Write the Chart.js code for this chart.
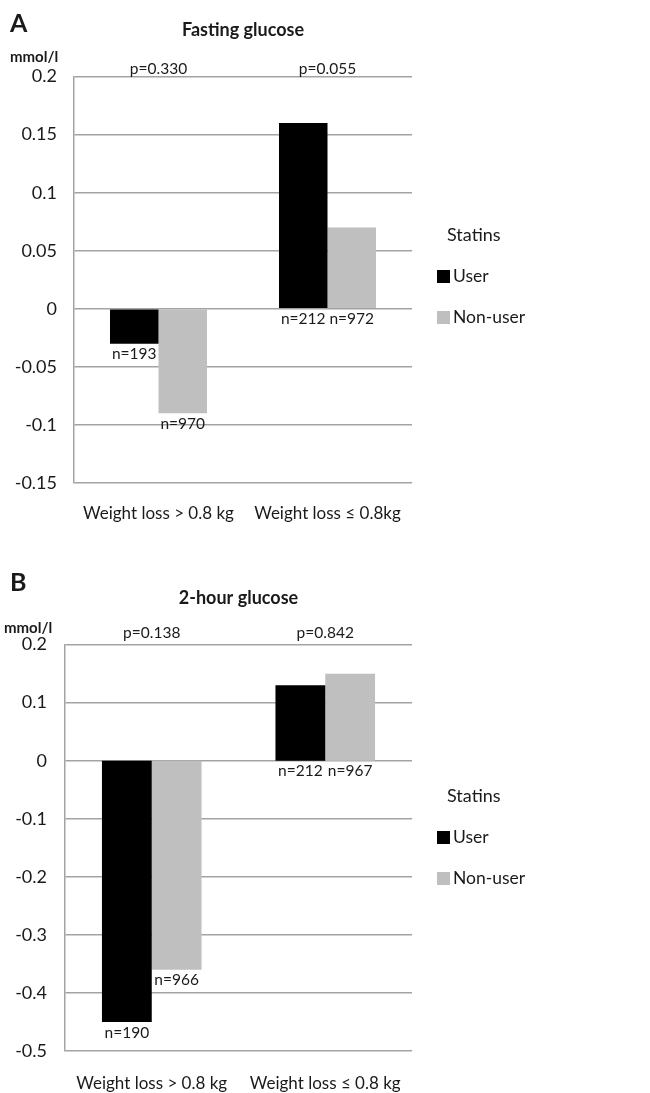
<!DOCTYPE html>
<html>
<head>
<meta charset="utf-8">
<script src="https://cdn.jsdelivr.net/npm/chart.js@4.4.0/dist/chart.umd.min.js"></script>
<style>
  body { margin: 0; background: #fff; }
  canvas { position: absolute; left: 0; }
</style>
</head>
<body>
<canvas id="chartA" width="650" height="545" style="top:0"></canvas>
<canvas id="chartB" width="650" height="548" style="top:545px"></canvas>
<script>
// ---- data ----
const groupsA = ["Weight loss > 0.8 kg", "Weight loss \u2264 0.8kg"];
const groupsB = ["Weight loss > 0.8 kg", "Weight loss \u2264 0.8 kg"];
const seriesNames = ["User", "Non-user"];

const fastingUser = [-0.03, 0.16];
const fastingNonUser = [-0.09, 0.07];
const fastingUserN = [193, 212];
const fastingNonUserN = [970, 972];
const fastingP = ["0.330", "0.055"];

const twoHourUser = [-0.45, 0.13];
const twoHourNonUser = [-0.36, 0.15];
const twoHourUserN = [190, 212];
const twoHourNonUserN = [966, 967];
const twoHourP = ["0.138", "0.842"];

const fontFamily = "Lato, 'Open Sans', sans-serif";
const textColor = "#1a1a1a";
const gridColor = "#a3a3a3";
const userColor = "#000000";
const nonUserColor = "#bfbfbf";

// draws panel letter, unit, p values, n labels and the legend
const annotate = {
  id: "annotate",
  afterDatasetsDraw(chart, args, opts) {
    const { ctx, chartArea, scales: { x } } = chart;
    ctx.save();
    ctx.fillStyle = textColor;
    ctx.textAlign = "left";
    ctx.textBaseline = "middle";
    ctx.font = `bold 25px ${fontFamily}`;
    ctx.fillText(opts.letter, opts.letterX, opts.letterY);
    ctx.font = `bold 15px ${fontFamily}`;
    ctx.fillText("mmol/l", opts.unitX, opts.unitY);

    ctx.font = `15.5px ${fontFamily}`;
    ctx.textAlign = "center";
    opts.pValues.forEach((p, i) => {
      ctx.fillText("p=" + p, x.getPixelForValue(i), chartArea.top - opts.pGap);
    });

    ctx.textBaseline = "top";
    chart.data.datasets.forEach((ds, di) => {
      chart.getDatasetMeta(di).data.forEach((bar, i) => {
        ctx.fillText("n=" + ds.n[i], bar.x, Math.max(bar.y, bar.base) + 3);
      });
    });

    // legend
    const lx = chartArea.right + 25;
    ctx.textAlign = "left";
    ctx.textBaseline = "middle";
    ctx.font = `18px ${fontFamily}`;
    ctx.fillText("Statins", lx + 10, opts.legendY);
    ctx.font = `17.5px ${fontFamily}`;
    chart.data.datasets.forEach((ds, di) => {
      const y = opts.legendY + 41 * (di + 1);
      ctx.fillStyle = ds.backgroundColor;
      ctx.fillRect(lx, y - 6, 13, 13);
      ctx.fillStyle = textColor;
      ctx.fillText(ds.label, lx + 16, y);
    });
    ctx.restore();
  },
};

function makeChart(id, cfg) {
  return new Chart(document.getElementById(id), {
    type: "bar",
    data: {
      labels: cfg.labels,
      datasets: [
        { label: seriesNames[0], data: cfg.user, n: cfg.userN, backgroundColor: userColor },
        { label: seriesNames[1], data: cfg.nonUser, n: cfg.nonUserN, backgroundColor: nonUserColor },
      ],
    },
    options: {
      responsive: false,
      animation: false,
      layout: { padding: { top: 0, right: 238, bottom: 0, left: 0 } },
      datasets: { bar: { barPercentage: 1, categoryPercentage: 0.574 } },
      plugins: {
        legend: { display: false },
        tooltip: { enabled: false },
        title: {
          display: true,
          text: cfg.title,
          fullSize: false,
          color: textColor,
          font: { family: fontFamily, size: 18, weight: "bold" },
          padding: { top: cfg.titleTop, bottom: cfg.titleBottom },
        },
        annotate: cfg.annotate,
      },
      scales: {
        x: {
          afterFit(scale) { scale.height = cfg.xHeight; },
          grid: { display: false, drawTicks: false },
          border: { display: false },
          ticks: { color: textColor, padding: cfg.xPad, maxRotation: 0,
                   font: { family: fontFamily, size: 17 } },
        },
        y: {
          min: cfg.min,
          max: cfg.max,
          afterFit(scale) { scale.width = cfg.axisWidth; },
          grid: { color: gridColor, lineWidth: 1.5, drawTicks: false },
          border: { display: true, color: gridColor, width: 1.5 },
          ticks: {
            stepSize: cfg.step,
            padding: cfg.yPad,
            color: textColor,
            font: { family: fontFamily, size: 18 },
            callback: (v) => String(Number(v.toFixed(2))),
          },
        },
      },
    },
    plugins: [annotate],
  });
}

makeChart("chartA", {
  labels: groupsA,
  title: "Fasting glucose",
  user: fastingUser, nonUser: fastingNonUser,
  userN: fastingUserN, nonUserN: fastingNonUserN,
  min: -0.15, max: 0.2, step: 0.05,
  axisWidth: 74, yPad: 17, xPad: 20, xHeight: 62,
  titleTop: 19, titleBottom: 36,
  annotate: { letter: "A", letterX: 10, letterY: 24, unitX: 10, unitY: 57,
              pValues: fastingP, pGap: 8, legendY: 235 },
});

makeChart("chartB", {
  labels: groupsB,
  title: "2-hour glucose",
  user: twoHourUser, nonUser: twoHourNonUser,
  userN: twoHourUserN, nonUserN: twoHourNonUserN,
  min: -0.5, max: 0.2, step: 0.1,
  axisWidth: 65, yPad: 18, xPad: 22, xHeight: 42,
  titleTop: 42, titleBottom: 36,
  annotate: { letter: "B", letterX: 10, letterY: 38, unitX: 4, unitY: 83,
              pValues: twoHourP, pGap: 12, legendY: 251 },
});
</script>
</body>
</html>
